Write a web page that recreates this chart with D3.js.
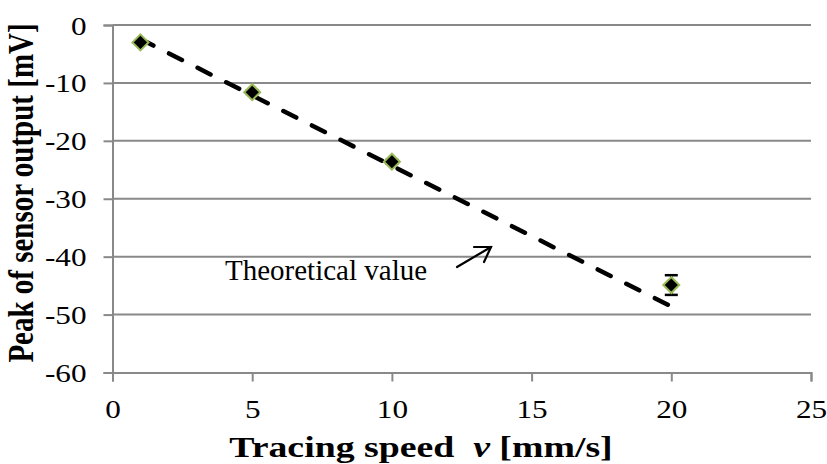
<!DOCTYPE html>
<html>
<head>
<meta charset="utf-8">
<script src="https://cdn.jsdelivr.net/npm/d3@7"></script>
<style>
  html, body { margin: 0; padding: 0; background: #fff; }
  svg { display: block; }
  text { font-family: "Liberation Serif", "Times New Roman", serif; fill: #000; }
</style>
</head>
<body>
<svg id="chart" width="827" height="464"></svg>
<script>
// ---- data ----
const speeds = [1, 5, 10, 20];
const peaks = [-3.0, -11.6, -23.6, -44.9];
const peakErrors = [0.2, 0.3, 0.3, 1.7];
const theoryX = [1, 20];
const theoryY = [-2.43, -48.6];
const xTicks = [0, 5, 10, 15, 20, 25];
const yTicks = [0, -10, -20, -30, -40, -50, -60];
const xTitle = "Tracing speed";
const xTitleVar = "v";
const xTitleUnit = "[mm/s]";
const yTitle = "Peak of sensor output [mV]";
const annotation = "Theoretical value";

const svg = d3.select("#chart");
const x = d3.scaleLinear().domain([0, 25]).range([112.5, 811]);
const y = d3.scaleLinear().domain([-60, 0]).range([372.5, 25]);
const grey = "#898989";
const SX = 1.2; // horizontal stretch of chart text

// gridlines
svg.append("g").selectAll("line").data(yTicks.filter(d => d !== -60)).join("line")
  .attr("x1", x(0)).attr("x2", x(25))
  .attr("y1", d => y(d)).attr("y2", d => y(d))
  .attr("stroke", grey).attr("stroke-width", 2);

// y axis
const yAxis = svg.append("g").attr("transform", `translate(${x(0)},0)`)
  .call(d3.axisLeft(y).tickValues(yTicks).tickSize(9).tickPadding(0).tickFormat(d3.format("d")));
yAxis.select(".domain").attr("stroke", grey).attr("stroke-width", 2);
yAxis.selectAll(".tick line").attr("stroke", grey).attr("stroke-width", 2);
yAxis.selectAll(".tick text").remove();
yAxis.selectAll(".tick").append("text")
  .attr("text-anchor", "end")
  .attr("transform", `translate(-26,9) scale(${SX},1)`)
  .style("font-size", "26px")
  .text(d => d3.format("d")(d).replace("−", "-"));

// x axis
const xAxis = svg.append("g").attr("transform", `translate(0,${y(-60)})`)
  .call(d3.axisBottom(x).tickValues(xTicks).tickSize(9).tickPadding(0));
xAxis.select(".domain").attr("stroke", grey).attr("stroke-width", 2);
xAxis.selectAll(".tick line").attr("stroke", grey).attr("stroke-width", 2);
xAxis.selectAll(".tick text").remove();
xAxis.selectAll(".tick").append("text")
  .attr("text-anchor", "middle")
  .attr("transform", `translate(0,45) scale(${SX},1)`)
  .style("font-size", "26px")
  .text(d => d);

// theoretical line
const line = d3.line().x((d, i) => x(theoryX[i])).y(d => y(d));
svg.append("path").datum(theoryY)
  .attr("d", line)
  .attr("fill", "none").attr("stroke", "#000")
  .attr("stroke-width", 4.5).attr("stroke-linecap", "round")
  .attr("stroke-dasharray", "14.5,17.5");

// error bars
const eb = svg.append("g");
speeds.forEach((s, i) => {
  const cx = x(s), y1 = y(peaks[i] + peakErrors[i]), y2 = y(peaks[i] - peakErrors[i]);
  eb.append("line").attr("x1", cx).attr("x2", cx).attr("y1", y1).attr("y2", y2)
    .attr("stroke", "#000").attr("stroke-width", 2.5);
  [y1, y2].forEach(yy => eb.append("line").attr("x1", cx - 6.5).attr("x2", cx + 6.5)
    .attr("y1", yy).attr("y2", yy).attr("stroke", "#000").attr("stroke-width", 2.5));
});

// markers
svg.append("g").selectAll("path").data(speeds).join("path")
  .attr("transform", (d, i) => `translate(${x(d)},${y(peaks[i])})`)
  .attr("d", "M0,-8 L8,0 L0,8 L-8,0 Z")
  .attr("fill", "#000").attr("stroke", "#9bbb59").attr("stroke-width", 2);

// annotation
svg.append("text").attr("x", 225).attr("y", 280)
  .style("font-size", "29px").text(annotation);
const arrow = svg.append("g").attr("stroke", "#000").attr("stroke-width", 2.2)
  .attr("fill", "none").attr("stroke-linecap", "round");
arrow.append("line").attr("x1", 457).attr("y1", 267).attr("x2", 491).attr("y2", 247);
arrow.append("polyline").attr("points", "474,247 491,247 484,262");

// x title
const xt = svg.append("text")
  .attr("text-anchor", "middle")
  .attr("transform", `translate(421,457) scale(1.26,1)`)
  .style("font-size", "30px").style("font-weight", "bold");
xt.append("tspan").text(xTitle + "\u00a0\u00a0");
xt.append("tspan").style("font-style", "italic").text(xTitleVar);
xt.append("tspan").text(" " + xTitleUnit);

// y title
svg.append("text")
  .attr("text-anchor", "middle")
  .attr("transform", `translate(33,193) rotate(-90) scale(1,1.26)`)
  .style("font-size", "29px").style("font-weight", "bold")
  .text(yTitle);
</script>
</body>
</html>
